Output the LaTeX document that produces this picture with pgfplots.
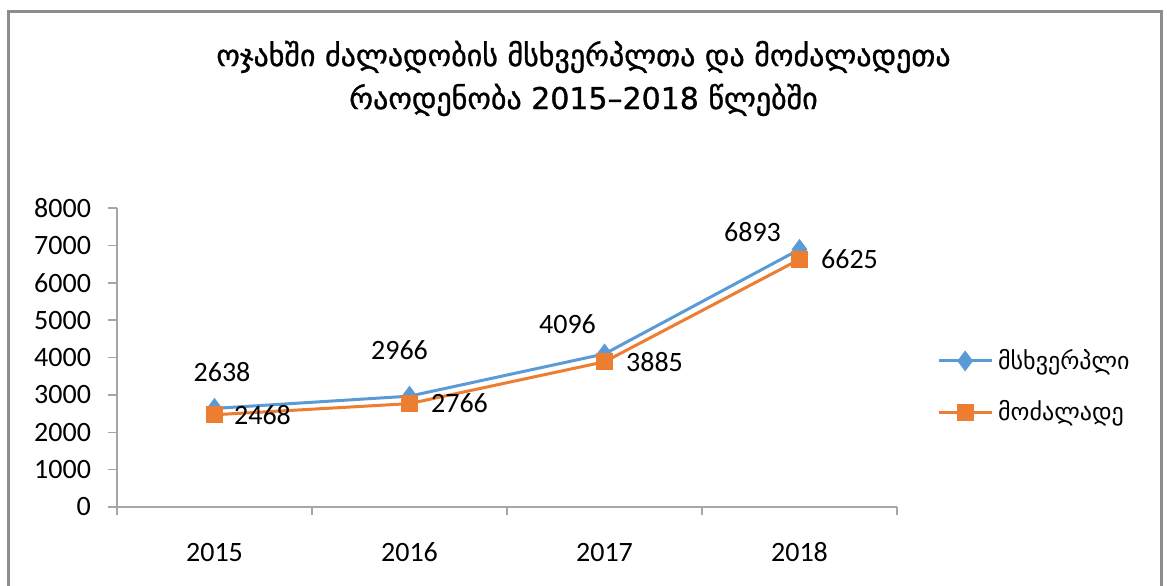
\documentclass[border=0pt]{standalone}
\usepackage{fontspec}
\setmainfont{Carlito}
\newfontfamily\geo[Script=Georgian]{DejaVu Sans}
\newfontfamily\geotitle[Script=Georgian, FakeBold=1]{DejaVu Sans}
\usepackage{pgfplots}
\pgfplotsset{compat=1.18}
\definecolor{sblue}{HTML}{5B9BD5}
\definecolor{sorange}{HTML}{ED7D31}
\definecolor{axgray}{HTML}{A6A6A6}
\definecolor{framegray}{HTML}{8C8C8C}

\pgfplotstableread{
x victims abusers
0 2638 2468
1 2966 2766
2 4096 3885
3 6893 6625
}\data

\begin{document}
\begin{tikzpicture}
\useasboundingbox (0,0) rectangle (583.5pt,292.5pt);
\begin{scope}
\clip (0,0) rectangle (583.5pt,292.5pt);
\draw[framegray, line width=1.5pt] (4pt,-10pt) -- (4pt,286.75pt) -- (580.5pt,286.75pt) -- (580.5pt,-10pt);
\end{scope}

% title
\node[align=center, font=\geotitle\fontsize{15}{21.5}\selectfont] at (291.75pt,253.25pt)
  {ოჯახში ძალადობის მსხვერპლთა და მოძალადეთა\\რაოდენობა 2015–2018 წლებში};

\begin{axis}[
  at={(58.5pt,39pt)}, anchor=south west,
  scale only axis, width=390pt, height=149.5pt,
  xmin=-0.5, xmax=3.5, ymin=0, ymax=8000,
  axis lines*=left,
  axis line style={axgray, line width=0.75pt},
  tick style={axgray, line width=0.75pt},
  xtick={0,1,2,3}, xticklabels={2015,2016,2017,2018},
  major x tick style={draw=none},
  minor xtick={-0.5,0.5,1.5,2.5,3.5},
  minor tick length=4pt,
  ytick={0,1000,...,8000},
  major tick length=4.5pt,
  tick align=outside,
  font=\fontsize{14}{16}\selectfont,
  ticklabel style={font=\fontsize{14}{16}\selectfont},
  /pgf/number format/assume math mode=true,
  /pgf/number format/1000 sep={},
  xticklabel style={anchor=base, yshift=-22.5pt},
  yticklabel style={anchor=east, xshift=-5pt},
  legend style={at={(1.051,0.403)}, anchor=west, draw=none, fill=none,
    inner sep=0pt, row sep=10pt,
    font=\geo\fontsize{12}{14}\selectfont,
    nodes={inner xsep=2.5pt}},
  legend cell align=left,
  legend image code/.code={
    \draw[#1, mark repeat=2, mark phase=2] plot coordinates {(0pt,0pt) (13.25pt,0pt) (26.5pt,0pt)};
  },
  clip=false,
]
\addplot[sblue, line width=1.5pt, mark=diamond*, mark size=4pt, mark options={solid}] table[x=x, y=victims] {\data};
\addlegendentry{მსხვერპლი}
\addplot[sorange, line width=1.5pt, mark=square*, mark size=3.5pt, mark options={solid}] table[x=x, y=abusers] {\data};
\addlegendentry{მოძალადე}

% data labels
\node[font=\fontsize{14}{16}\selectfont] at ([shift={(3.75pt,18pt)}]axis cs:0,2638) {2638};
\node[font=\fontsize{14}{16}\selectfont] at ([shift={(-5pt,23pt)}]axis cs:1,2966) {2966};
\node[font=\fontsize{14}{16}\selectfont] at ([shift={(-18.5pt,15pt)}]axis cs:2,4096) {4096};
\node[font=\fontsize{14}{16}\selectfont] at ([shift={(-23.5pt,8.5pt)}]axis cs:3,6893) {6893};
\node[font=\fontsize{14}{16}\selectfont] at ([shift={(24pt,0pt)}]axis cs:0,2468) {2468};
\node[font=\fontsize{14}{16}\selectfont] at ([shift={(25pt,0pt)}]axis cs:1,2766) {2766};
\node[font=\fontsize{14}{16}\selectfont] at ([shift={(25pt,0pt)}]axis cs:2,3885) {3885};
\node[font=\fontsize{14}{16}\selectfont] at ([shift={(25pt,0pt)}]axis cs:3,6625) {6625};
\end{axis}
\end{tikzpicture}
\end{document}
